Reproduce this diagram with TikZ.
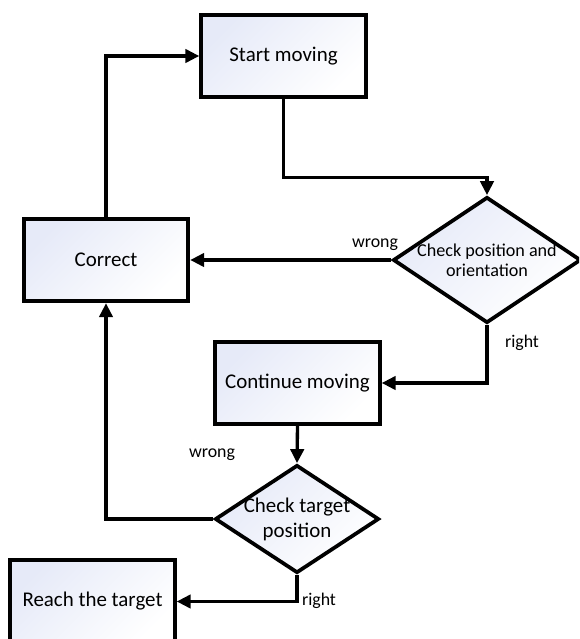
\documentclass[tikz,border=0pt]{standalone}
\usepackage{fontspec}
\setmainfont{Carlito}
\usepackage{tikz}
\usetikzlibrary{shapes.geometric,arrows.meta,positioning}
\definecolor{boxblue}{RGB}{230,234,248}
\tikzset{
  stepbox/.style={rectangle, draw=black, line width=2.8pt,
                  top color=boxblue, bottom color=white, shading angle=45,
                  minimum width=123.5pt, minimum height=62pt, inner sep=0pt,
                  font=\fontsize{15.7}{19}\selectfont},
  decide/.style={diamond, draw=black, line width=2.8pt,
                 top color=boxblue, bottom color=white, shading angle=45,
                 inner sep=0pt},
  dtext/.style={align=center, inner sep=0pt},
  flow/.style={line width=2.5pt, -{Triangle[length=10.5pt,width=10pt]}},
  blabel/.style={font=\fontsize{13.4}{15}\selectfont, inner sep=0pt},
}
\begin{document}
\begin{tikzpicture}[x=0.75pt,y=-0.75pt]
  \clip (0,0) rectangle (579,639);

  % boxes
  \node[stepbox] (start) at (283.5,56) {Start moving};
  \node[stepbox] (correct) at (106,260) {Correct};
  \node[stepbox] (cont) at (297.5,383) {Continue moving};
  \node[stepbox] (reach) at (92.5,601.5) {Reach the target};

  % decisions
  \node[decide, minimum width=141pt, minimum height=94.5pt] (chkpos) at (487,260) {};
  \node[dtext, font=\fontsize{13.6}{15}\selectfont] (chkpos-t) at (chkpos.center)
    {Check position and\\orientation};
  \node[decide, minimum width=123pt, minimum height=81pt] (chktgt) at (297,519) {};
  \node[dtext, font=\fontsize{15.7}{18.8}\selectfont] (chktgt-t) at (chktgt.center)
    {Check target\\position};

  % connectors
  \draw[flow] (start.south) -- ++(0,78) -| (chkpos.north);
  \draw[flow] (chkpos.west) -- (correct.east);
  \draw[flow] (correct.north) |- (start.west);
  \draw[flow] (chkpos.south) |- (cont.east);
  \draw[flow] (cont.south) -- (chktgt.north);
  \draw[flow] (chktgt.west) -| (correct.south);
  \draw[flow] (chktgt.south) |- (reach.east);

  % branch labels
  \node[blabel] (w1) at (375,245) {wrong};
  \node[blabel] (r1) at (522,343) {right};
  \node[blabel] (w2) at (212,455) {wrong};
  \node[blabel] (r2) at (319,601) {right};
\end{tikzpicture}
\end{document}
